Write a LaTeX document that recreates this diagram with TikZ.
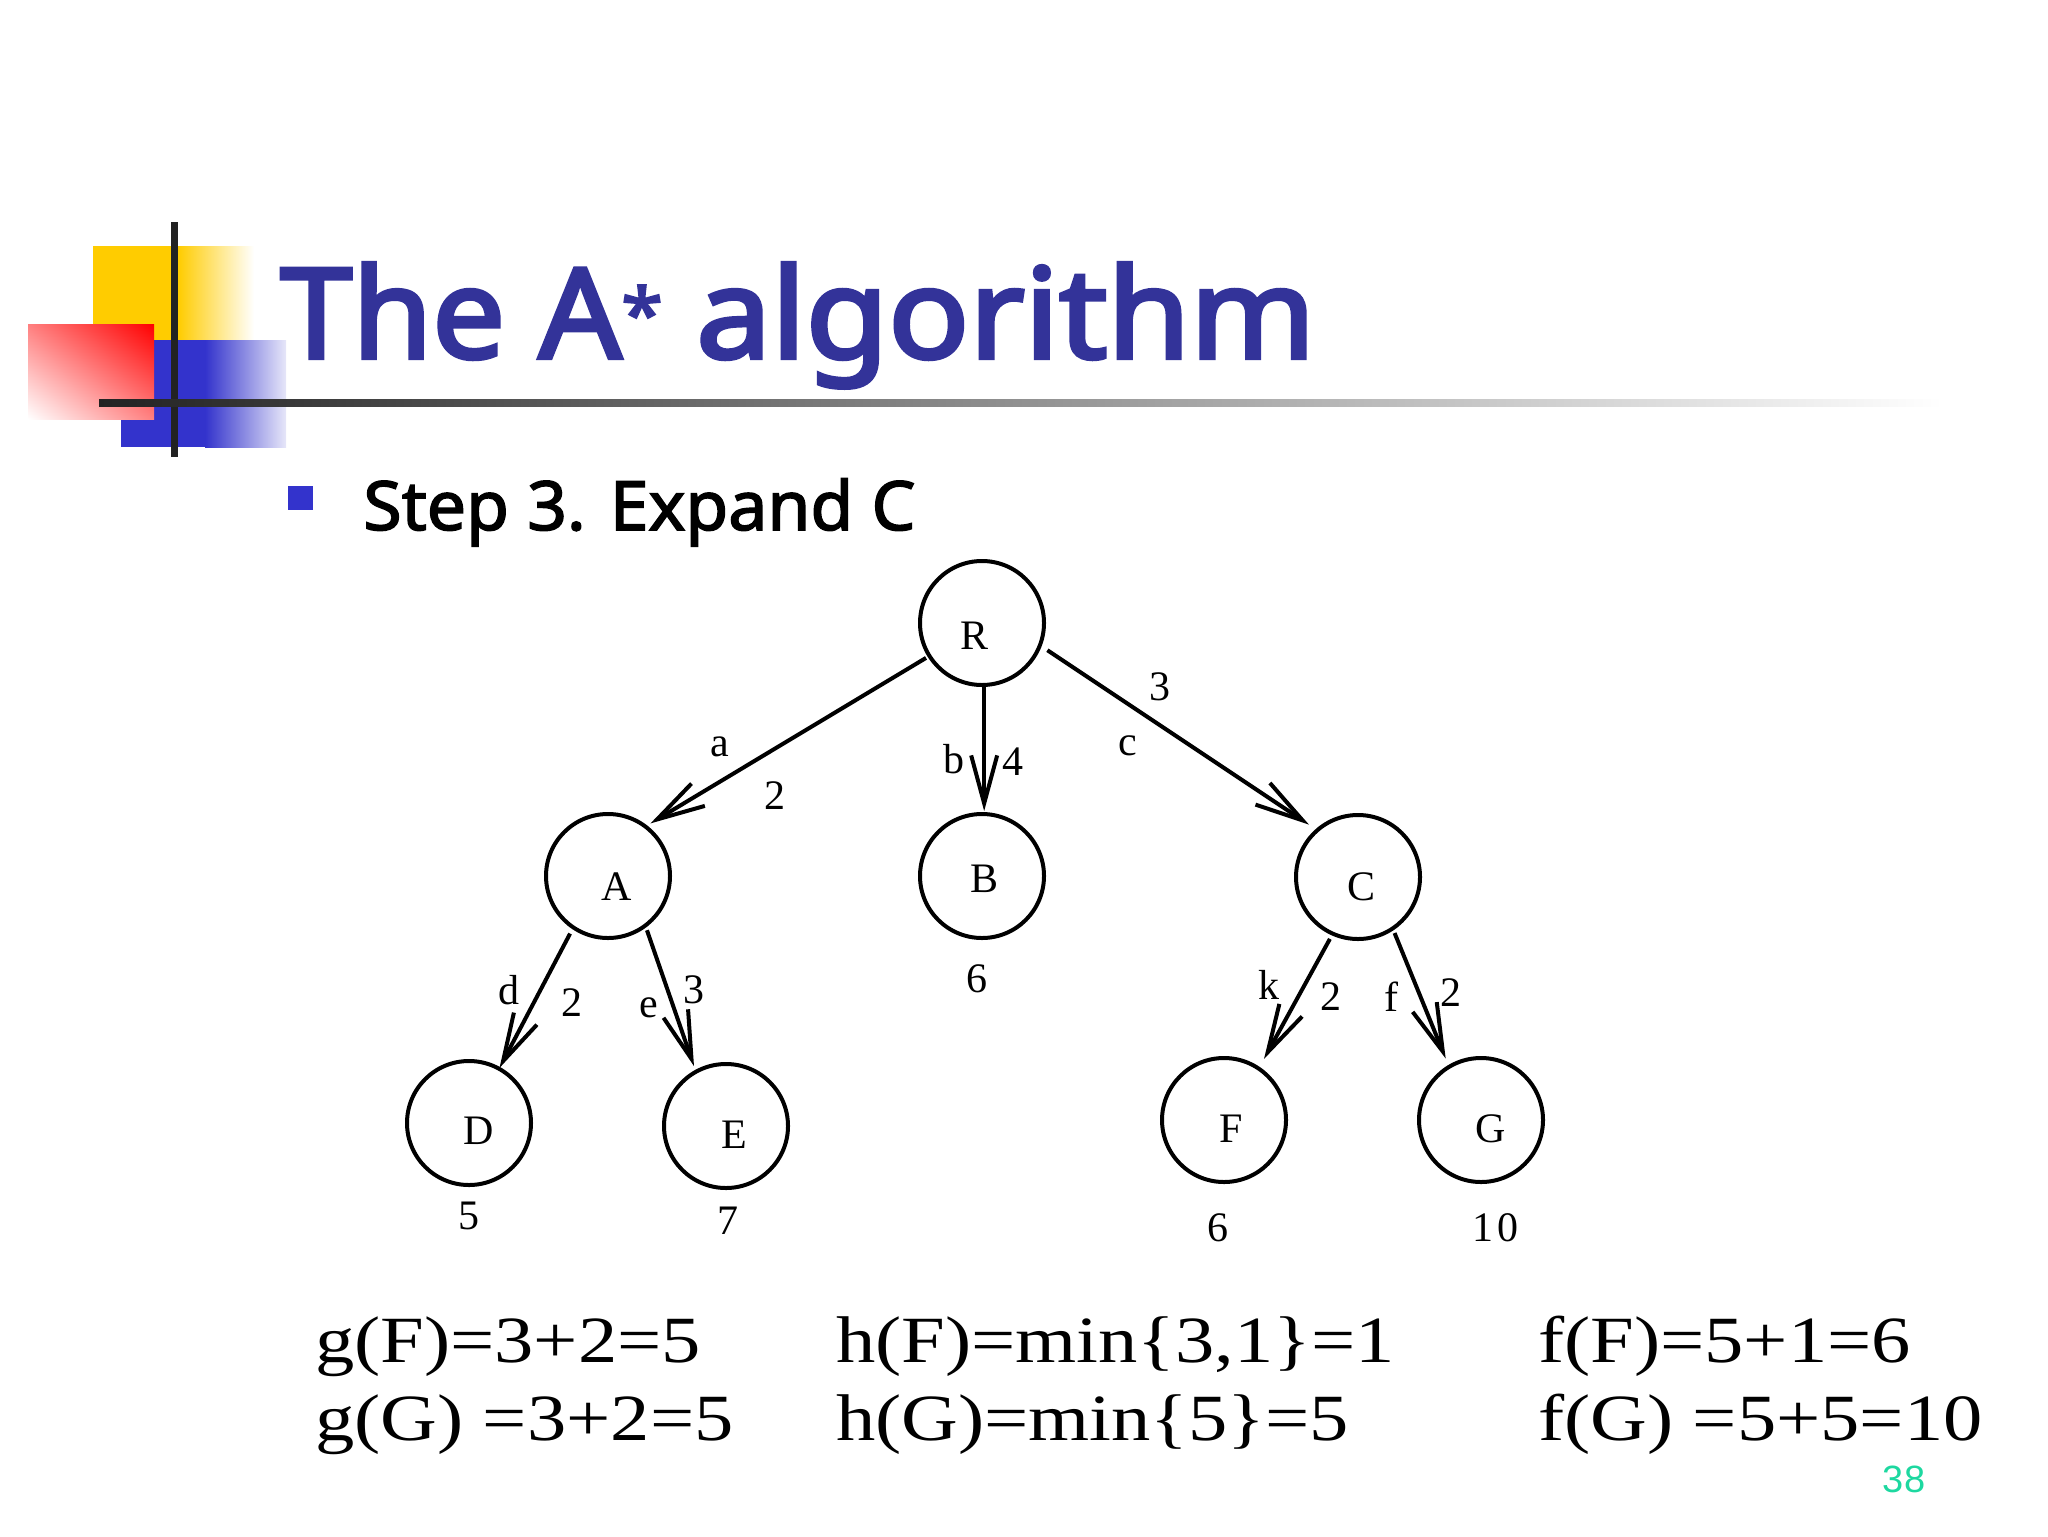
\documentclass[tikz,border=0pt]{standalone}
\usepackage{fontspec}
\usetikzlibrary{arrows.meta,shadings}
\setmainfont{Liberation Serif}
\newfontfamily\notof{Noto Sans}[FakeBold=2.2]
\newfontfamily\notoh{Noto Sans}[FakeBold=3.2]
\newfontfamily\numf{Liberation Sans}
\definecolor{titleblue}{HTML}{333399}
\definecolor{logoblue}{HTML}{3333CC}
\definecolor{logoyellow}{HTML}{FFCC00}
\definecolor{logored}{HTML}{FF0000}
\definecolor{barcol}{HTML}{222222}
\definecolor{pagenum}{HTML}{1DD8A0}
\newcommand{\wideeq}[1]{\scalebox{1.19}[1]{#1}}
\newcommand{\widehead}[1]{\scalebox{1.035}[1]{#1}}
\tikzset{
  x=0.5pt,y=-0.5pt,
  tree/.style={circle,draw=black,line width=2pt,minimum size=62pt,inner sep=0pt,outer sep=0pt},
  lab/.style={inner sep=0pt,outer sep=0pt,font=\fontsize{21}{24}\selectfont},
  eq/.style={inner sep=0pt,outer sep=0pt,anchor=base west,font=\fontsize{33}{40}\selectfont},
  arr/.style={-{Straight Barb[length=24pt,width=13pt,line width=2pt]},line width=2pt,black},
}
\begin{document}
\begin{tikzpicture}
\useasboundingbox (0,0) rectangle (2048,1536);
% logo
\fill[logoyellow] (93,246) rectangle (178,340);
\shade[left color=logoyellow,right color=white] (178,246) rectangle (254,340);
\fill[logoblue] (121,340) rectangle (205,447);
\shade[left color=logoblue,right color=logoblue!12] (205,340) rectangle (286,447);
\shade[upper right=logored,upper left=logored!50,lower right=logored!50,lower left=white] (28,324) rectangle (154,419);
\fill[barcol] (171,222) rectangle (178,457);
\shade[left color=barcol,right color=white] (99,399) rectangle (1943,406);
% title
\node[anchor=base west,inner sep=0pt,text=titleblue,font=\notoh\fontsize{62.5}{70}\selectfont] (title) at (280,358) {\widehead{The A\raisebox{9pt}{\fontsize{36}{40}\selectfont *} \scalebox{1.035}[1]{algorithm}}};
\fill[logoblue] (288,486) rectangle (313,510);
\node[anchor=base west,inner sep=0pt,font=\notof\fontsize{34}{40}\selectfont] (step) at (363,530) {\scalebox{1.025}[1]{Step 3. Expand C}};
% tree
\node[tree] (R) at (982,623) {};
\node[tree] (A) at (608,876) {};
\node[tree] (B) at (982,876) {};
\node[tree] (C) at (1358,877) {};
\node[tree] (D) at (469,1123) {};
\node[tree] (E) at (726,1126) {};
\node[tree] (F) at (1224,1120) {};
\node[tree] (G) at (1481,1120) {};
\node[lab] (tR) at (974,636) {R};
\node[lab] (tA) at (617,887) {A};
\node[lab] (tB) at (984,879) {B};
\node[lab] (tC) at (1361,887) {C};
\node[lab] (tD) at (479,1131) {D};
\node[lab] (tE) at (734,1135) {E};
\node[lab] (tF) at (1231,1129) {F};
\node[lab] (tG) at (1491,1129) {G};
\draw[arr,shorten <=2pt,shorten >=3pt] (R.212) -- (A.53);
\draw[arr,shorten <=0.5pt,shorten >=1.5pt] (R.272) -- (B.88);
\draw[arr,shorten <=4.5pt,shorten >=5pt] (R.-21) -- (C.131);
\draw[arr,shorten <=3.5pt,shorten >=0.5pt] (A.236) -- (D.61);
\draw[arr,shorten <=2.5pt,shorten >=3pt] (A.-53) -- (E.119);
\draw[arr,shorten <=3pt,shorten >=5.5pt] (C.246) -- (F.56);
\draw[arr,shorten <=2.5pt,shorten >=4.5pt] (C.304) -- (G.121);
\node[lab] (la) at (720,747) {a};
\node[lab] (l2a) at (775,796) {2};
\node[lab] (lb) at (954,759) {b};
\node[lab] (l4) at (1013,762) {4};
\node[lab] (l3) at (1160,687) {3};
\node[lab] (lc) at (1128,746) {c};
\node[lab] (ld) at (509,990) {d};
\node[lab] (l2d) at (572,1003) {2};
\node[lab] (le) at (649,1008) {e};
\node[lab] (l3e) at (694,990) {3};
\node[lab] (lk) at (1269,985) {k};
\node[lab] (l2k) at (1331,997) {2};
\node[lab] (lf) at (1391,997) {f};
\node[lab] (l2f) at (1451,993) {2};
\node[lab] (vB) at (977,979) {6};
\node[lab] (vD) at (469,1216) {5};
\node[lab] (vE) at (728,1221) {7};
\node[lab] (vF) at (1218,1228) {6};
\node[lab] (vG) at (1495,1228) {1\kern2pt 0};
% formulas
\node[eq] (gF) at (315,1362) {\wideeq{g(F)=3+2=5}};
\node[eq] (gG) at (315,1440) {\wideeq{g(G) =3+2=5}};
\node[eq] (hF) at (836,1362) {\wideeq{h(F)=min\{3,1\}=1}};
\node[eq] (hG) at (836,1440) {\wideeq{h(G)=min\{5\}=5}};
\node[eq] (fF) at (1538,1362) {\wideeq{f(F)=5+1=6}};
\node[eq] (fG) at (1538,1440) {\wideeq{f(G) =5+5=10}};
\node[inner sep=0pt,text=pagenum,font=\numf\fontsize{19}{22}\selectfont] (num) at (1904,1479) {38};
\end{tikzpicture}
\end{document}
